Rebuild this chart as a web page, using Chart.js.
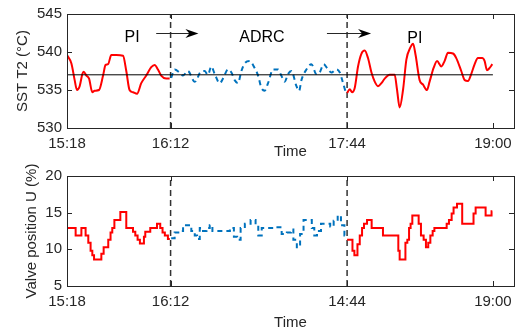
<!DOCTYPE html>
<html>
<head>
<meta charset="utf-8">
<script src="https://cdn.jsdelivr.net/npm/chart.js@4"></script>
<style>
  html, body { margin: 0; padding: 0; background: #fff; }
  #wrap { position: relative; width: 520px; height: 335px; }
  canvas { position: absolute; left: 0; }
  #tempChart { top: 0; }
  #valveChart { top: 162px; }
</style>
</head>
<body>
<div id="wrap">
  <canvas id="tempChart" width="520" height="162"></canvas>
  <canvas id="valveChart" width="520" height="173"></canvas>
</div>
<script>
// x values are minutes after 15:18
const xTicks = [0, 54, 146, 222];
const tempTickLabels = ['15:18', '16:12', '17:44', '19:00'];
const valveTickLabels = ['15:18', '16:12', '14:44', '19:00'];
const switchTimes = [54, 146];
const setpoint = 537;
const setpointTimes = [0, 222];

// SST T2, first PI period
const piTime1 = [0, 2.3, 4.0, 5.2, 6.6, 8.0, 8.7, 10.1, 11.5, 13.2, 14.4, 16.7, 18.8, 20.1, 21.4, 23.1, 25.7, 29.2, 30.9, 32.6, 34.4, 36.5, 38.7, 41.3, 43.9, 45.7, 47.4, 49.1, 51.7, 53.5];
const piTemp1 = [539.6, 538.5, 536.3, 535.0, 535.5, 537.1, 537.4, 536.9, 536.5, 534.7, 534.9, 535.0, 536.9, 538.3, 538.4, 539.6, 539.6, 539.5, 537.5, 535.0, 534.7, 534.5, 535.9, 536.9, 538.0, 538.3, 537.7, 536.9, 536.5, 536.5];

// SST T2, ADRC period
const adrcTime = [54.3, 56.1, 58.7, 60.4, 63.0, 66.5, 67.4, 69.1, 71.7, 73.5, 75.2, 77.0, 79.6, 81.3, 83.9, 85.7, 87.4, 89.1, 90.9, 92.6, 95.2, 97.8, 99.6, 101.3, 103.0, 104.8, 107.4, 110.0, 111.7, 113.5, 115.2, 117.0, 119.6, 121.0, 122.2, 124.8, 127.4, 130.0, 131.7, 133.8, 136.1, 137.8, 140.4, 142.2, 143.9, 145.3];
const adrcTemp = [536.6, 537.7, 537.3, 536.9, 537.5, 536.1, 536.2, 537.2, 537.5, 537.0, 538.1, 537.1, 535.9, 536.5, 537.7, 537.3, 536.3, 535.9, 537.5, 538.5, 538.8, 537.9, 536.9, 535.3, 534.9, 535.9, 537.7, 537.7, 536.9, 536.1, 537.1, 537.5, 535.5, 534.9, 536.3, 537.7, 538.4, 537.1, 537.3, 538.4, 537.7, 537.3, 537.7, 537.3, 535.9, 534.7];

// SST T2, second PI period
const piTime2 = [146.0, 147.4, 148.6, 150.0, 151.7, 153.5, 155.2, 156.9, 158.7, 160.4, 162.1, 163.9, 165.6, 168.2, 170.8, 172.0, 173.4, 175.2, 176.9, 179.0, 180.4, 181.7, 183.8, 185.6, 187.6, 189.0, 191.1, 192.9, 195.1, 196.8, 198.6, 201.2, 202.9, 205.5, 207.3, 209.0, 210.7, 212.5, 214.2, 216.4, 217.7, 218.9, 220.3, 221.7];
const piTemp2 = [534.6, 535.1, 534.7, 535.3, 538.1, 539.8, 540.2, 539.2, 537.3, 536.1, 535.5, 535.9, 536.5, 537.0, 537.0, 535.1, 532.7, 535.1, 539.0, 540.6, 541.1, 539.6, 536.3, 535.7, 535.0, 536.1, 537.9, 538.8, 538.1, 538.8, 539.9, 539.8, 539.2, 537.5, 536.3, 536.2, 537.1, 538.4, 539.2, 539.2, 538.8, 537.6, 537.9, 538.4];

// valve position U, steps (time of change, new value)
const uTime1 = [0, 4.5, 7.5, 9.7, 11.1, 12.3, 13.2, 14.1, 17.9, 19.1, 21.5, 22.7, 23.6, 24.7, 27.8, 30.9, 34.4, 35.6, 36.8, 38.0, 40.1, 40.8, 43.4, 46.9, 48.6, 49.8, 51.0, 52.6, 53.6];
const uValue1 = [12.9, 11.9, 12.9, 11.9, 10.9, 9.8, 9.2, 8.6, 9.4, 10.3, 11.3, 12.3, 12.9, 14.0, 15.1, 12.9, 12.4, 11.9, 11.3, 10.8, 11.7, 12.4, 12.9, 13.5, 12.9, 12.3, 11.9, 11.4, 11.4];

const uTimeAdrc = [54.3, 56.1, 58.7, 60.5, 64.8, 66.6, 67.8, 69.2, 70.9, 72.7, 74.4, 75.8, 84.9, 87.0, 88.7, 90.5, 92.7, 95.7, 98.3, 99.7, 101.5, 107.6, 111.9, 114.6, 116.7, 118.0, 119.8, 121.5, 123.3, 127.6, 128.9, 130.3, 132.4, 137.2, 139.0, 141.1, 142.8, 144.6, 145.6];
const uValueAdrc = [11.5, 12.3, 12.5, 13.3, 12.5, 11.9, 11.4, 12.9, 12.5, 12.9, 13.3, 12.5, 12.9, 11.7, 11.3, 12.9, 13.5, 14.0, 13.3, 11.9, 12.9, 13.0, 12.1, 12.3, 12.7, 11.3, 10.3, 12.1, 14.0, 12.9, 11.9, 12.5, 13.5, 13.1, 13.9, 14.6, 13.3, 11.9, 11.9];

const uTime2 = [146.0, 148.8, 149.8, 151.4, 152.6, 153.8, 154.8, 156.4, 158.8, 164.7, 172.7, 173.4, 176.4, 177.4, 178.3, 179.1, 180.0, 183.3, 184.5, 185.9, 187.1, 188.3, 189.4, 190.6, 191.5, 197.9, 199.1, 200.5, 201.5, 203.3, 206.0, 211.9, 213.0, 218.2, 221.3, 221.7];
const uValue2 = [11.3, 9.8, 9.2, 10.7, 11.9, 12.9, 13.5, 14.0, 12.9, 11.9, 9.8, 8.6, 10.9, 11.3, 12.9, 13.5, 14.6, 13.5, 11.9, 11.3, 10.3, 10.9, 11.9, 12.5, 12.9, 13.5, 14.0, 14.9, 15.7, 16.2, 13.5, 14.9, 15.7, 14.6, 15.2, 15.2];

const RED = '#ff0000';
const BLUE = '#0072bd';
const INK = '#262626';
const FONT = '"Liberation Sans", Arial, sans-serif';

Chart.defaults.font.family = FONT;
Chart.defaults.font.size = 15;
Chart.defaults.color = INK;

const pts = (xs, ys) => xs.map((x, i) => ({ x: x, y: ys[i] }));

// MATLAB style box with inward ticks, plus arrows / labels
const boxPlugin = {
  id: 'box',
  afterDraw(chart, args, opts) {
    const { ctx, chartArea: a, scales } = chart;
    const xs = scales.x, ys = scales.y;
    ctx.save();
    ctx.strokeStyle = INK;
    ctx.lineWidth = 1;
    ctx.setLineDash([]);
    ctx.strokeRect(Math.round(a.left) + 0.5, Math.round(a.top) + 0.5, Math.round(a.width), Math.round(a.height));
    const tl = 5;
    ctx.beginPath();
    xs.ticks.forEach(t => {
      const px = Math.round(xs.getPixelForValue(t.value)) + 0.5;
      ctx.moveTo(px, a.bottom); ctx.lineTo(px, a.bottom - tl);
      ctx.moveTo(px, a.top); ctx.lineTo(px, a.top + tl);
    });
    ys.ticks.forEach(t => {
      const py = Math.round(ys.getPixelForValue(t.value)) + 0.5;
      ctx.moveTo(a.left, py); ctx.lineTo(a.left + tl, py);
      ctx.moveTo(a.right, py); ctx.lineTo(a.right - tl, py);
    });
    ctx.stroke();

    (opts.arrows || []).forEach(ar => {
      const x1 = xs.getPixelForValue(ar.from), x2 = xs.getPixelForValue(ar.to);
      const y = Math.round(ys.getPixelForValue(ar.y)) + 0.5;
      ctx.beginPath();
      ctx.moveTo(x1, y); ctx.lineTo(x2 - 6, y);
      ctx.stroke();
      ctx.fillStyle = '#000';
      ctx.beginPath();
      ctx.moveTo(x2, y);
      ctx.lineTo(x2 - 13, y - 4.5);
      ctx.lineTo(x2 - 9, y);
      ctx.lineTo(x2 - 13, y + 4.5);
      ctx.closePath();
      ctx.fill();
    });
    ctx.fillStyle = '#000';
    ctx.font = '16px ' + FONT;
    ctx.textAlign = 'center';
    ctx.textBaseline = 'middle';
    (opts.labels || []).forEach(lb => {
      ctx.fillText(lb.text, xs.getPixelForValue(lb.x), ys.getPixelForValue(lb.y));
    });
    ctx.restore();
  }
};

function switchLines(ymin, ymax) {
  return switchTimes.map(t => ({
    data: [{ x: t, y: ymin }, { x: t, y: ymax }],
    borderColor: '#333',
    borderWidth: 1.5,
    borderDash: [6, 4],
    pointRadius: 0
  }));
}

function axes(ymin, ymax, labels, xHeight, titlePad, yTitle, yTitlePad) {
  return {
    x: {
      type: 'linear', min: 0, max: 233,
      grid: { display: false, drawTicks: false }, border: { display: false },
      afterBuildTicks: s => { s.ticks = xTicks.map(v => ({ value: v })); },
      afterFit: s => { s.height = xHeight; },
      ticks: {
        autoSkip: false, maxRotation: 0, padding: 7,
        font: { size: 15 },
        callback: v => labels[xTicks.indexOf(v)]
      },
      title: { display: true, text: 'Time', font: { size: 15 }, padding: { top: 0, bottom: titlePad } }
    },
    y: {
      min: ymin, max: ymax,
      grid: { display: false, drawTicks: false }, border: { display: false },
      afterFit: s => { s.width = 67; },
      ticks: { stepSize: 5, padding: 5, font: { size: 15 } },
      title: { display: true, text: yTitle, font: { size: 15 }, padding: { top: yTitlePad, bottom: 0 } }
    }
  };
}

new Chart(document.getElementById('tempChart'), {
  type: 'line',
  data: {
    datasets: [
      { data: pts(setpointTimes, [setpoint, setpoint]), borderColor: '#000', borderWidth: 1, pointRadius: 0 },
      { data: pts(piTime1, piTemp1), borderColor: RED, borderWidth: 2, pointRadius: 0, cubicInterpolationMode: 'monotone' },
      { data: pts(adrcTime, adrcTemp), borderColor: BLUE, borderWidth: 2, borderDash: [5, 4], pointRadius: 0, cubicInterpolationMode: 'monotone' },
      { data: pts(piTime2, piTemp2), borderColor: RED, borderWidth: 2, pointRadius: 0, cubicInterpolationMode: 'monotone' },
      ...switchLines(530, 545)
    ]
  },
  options: {
    responsive: false,
    animation: false,
    layout: { padding: { top: 6, right: 6, left: 0, bottom: 0 } },
    scales: axes(530, 545, tempTickLabels, 34, 1, 'SST T2 (°C)', 14),
    plugins: {
      legend: { display: false },
      tooltip: { enabled: false },
      box: {
        arrows: [{ from: 46.5, to: 68.5, y: 542.45 }, { from: 135.5, to: 158.5, y: 542.45 }],
        labels: [{ text: 'PI', x: 33.9, y: 541.95 }, { text: 'ADRC', x: 101.6, y: 541.95 }, { text: 'PI', x: 181.3, y: 541.8 }]
      }
    }
  },
  plugins: [boxPlugin]
});

new Chart(document.getElementById('valveChart'), {
  type: 'line',
  data: {
    datasets: [
      { data: pts(uTime1, uValue1), borderColor: RED, borderWidth: 2, pointRadius: 0, stepped: 'before' },
      { data: pts(uTimeAdrc, uValueAdrc), borderColor: BLUE, borderWidth: 2, borderDash: [5, 4], pointRadius: 0, stepped: 'before' },
      { data: pts(uTime2, uValue2), borderColor: RED, borderWidth: 2, pointRadius: 0, stepped: 'before' },
      ...switchLines(5, 20)
    ]
  },
  options: {
    responsive: false,
    animation: false,
    layout: { padding: { top: 2, right: 6, left: 0, bottom: 0 } },
    scales: axes(5, 20, valveTickLabels, 49, 3, 'Valve position U (%)', 23),
    plugins: {
      legend: { display: false },
      tooltip: { enabled: false },
      box: {}
    }
  },
  plugins: [boxPlugin]
});
</script>
</body>
</html>
